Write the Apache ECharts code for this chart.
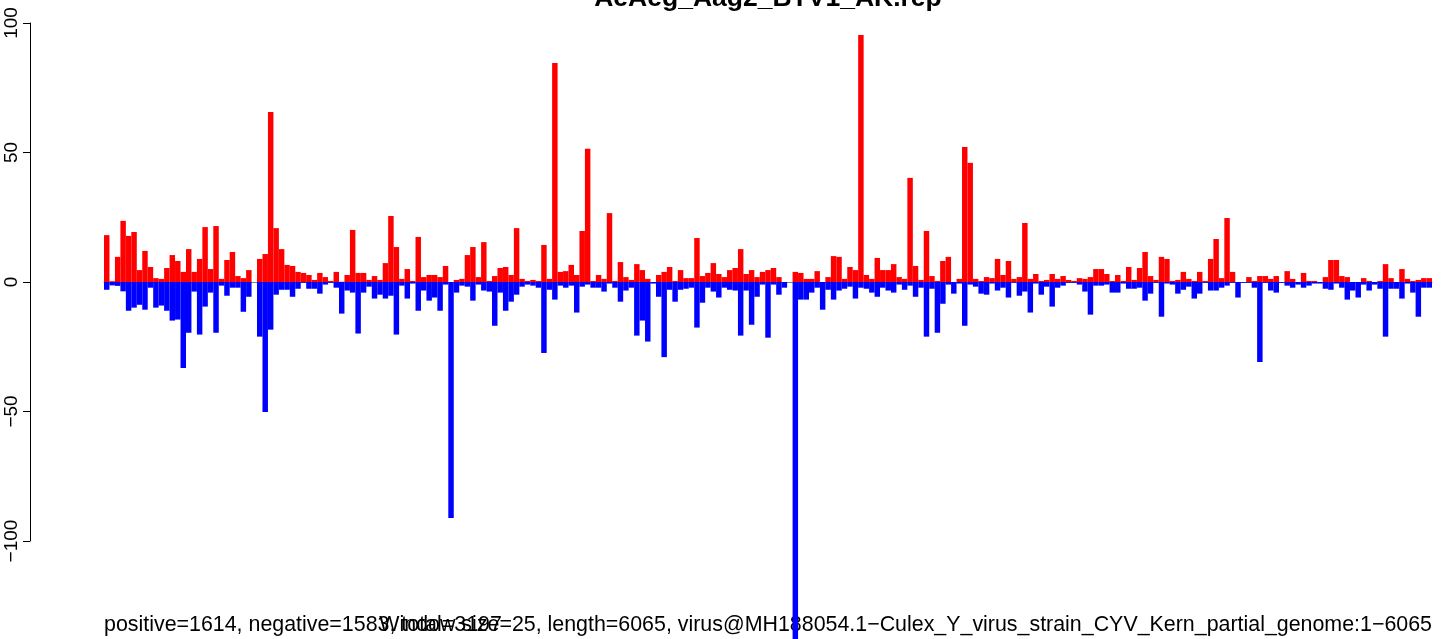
<!DOCTYPE html>
<html><head><meta charset="utf-8">
<script src="https://cdn.jsdelivr.net/npm/echarts@6/dist/echarts.min.js"></script>
<style>html,body{margin:0;padding:0;background:#fff;overflow:hidden}#c{width:1441px;height:639px}</style>
</head><body><div id="c"></div>
<script>
const titleText = 'AeAeg_Aag2_BTV1_AK.rep';
const leftNote = 'positive=1614, negative=1583, total=3197';
const rightNote = 'Window size=25, length=6065, virus@MH188054.1\u2212Culex_Y_virus_strain_CYV_Kern_partial_genome:1\u22126065';
const windowSize = 25;
const yTicks = [-100, -50, 0, 50, 100];

const positive = [
18.1,0.3,9.7,23.6,17.8,19.3,4.6,12.0,5.8,1.5,1.2,5.4,10.4,8.1,3.9,12.7,3.9,8.9,21.2,5.0,
21.6,1.2,8.5,11.6,2.3,1.5,4.6,0,8.9,10.8,65.6,20.8,12.7,6.6,6.2,3.9,3.5,2.7,0.8,3.5,
1.9,0.4,3.9,0.1,2.7,20.1,3.5,3.5,0.8,2.3,0.8,7.3,25.5,13.5,1.2,5.0,0.4,17.4,1.9,2.7,
2.7,1.9,6.2,0,0.8,1.2,10.4,13.5,1.9,15.4,0.4,2.3,5.4,5.8,2.7,20.8,1.2,0.4,0.8,0.4,
14.3,1.2,84.6,3.9,4.2,6.6,2.7,19.7,51.4,0.4,2.7,1.2,26.6,0.4,7.7,1.9,0.8,6.9,4.6,1.2,
0,2.7,3.9,5.8,0.4,4.6,1.5,1.5,17.0,2.3,3.5,7.3,3.1,1.9,4.6,5.4,12.7,3.1,4.6,1.9,
3.9,4.6,5.4,1.9,0,0,3.9,3.5,1.2,1.2,4.2,0,1.9,10.0,9.7,1.2,5.8,4.6,95.4,2.7,
1.2,9.3,4.6,4.6,6.9,1.9,1.2,40.2,6.2,0.8,19.7,2.3,0.4,8.1,9.7,0,1.2,52.1,46.0,1.2,
0.4,1.9,1.5,8.9,2.7,8.1,1.2,1.9,22.8,1.2,3.1,0.4,0.8,3.1,1.2,2.3,0.8,0.4,1.5,1.2,
1.9,5.0,5.0,3.1,0.4,2.7,0.4,5.8,0.8,5.4,11.6,2.3,0.8,9.7,8.9,0.4,0.8,3.9,1.2,0.4,
3.9,0.4,8.9,16.6,1.5,24.7,3.9,0,0,1.9,0.4,2.3,2.3,1.2,2.3,0,4.2,1.2,0,3.5,
0.4,0.4,0,1.9,8.5,8.5,2.3,1.9,0,0,1.5,0.4,0,0.4,6.9,1.5,0,5.0,1.2,0.4,
0.8,1.5,1.5
];

const negative = [
-3.0,-1.3,-1.5,-3.6,-11.1,-9.9,-8.8,-10.7,-2.2,-9.9,-9.1,-11.1,-14.9,-14.5,-33.2,-19.6,-3.7,-20.3,-9.5,-4.1,
-19.6,-1.4,-5.3,-2.2,-2.2,-11.5,-5.7,0,-21.1,-50.2,-18.4,-4.9,-3.0,-3.0,-5.7,-2.6,-0.3,-2.6,-2.6,-4.5,
-1.0,-0.3,-2.2,-12.2,-3.3,-4.1,-19.9,-4.1,-1.8,-6.4,-4.9,-6.4,-5.3,-20.3,-1.4,-6.4,-0.6,-11.1,-3.3,-7.2,
-6.0,-11.1,-1.0,-91.1,-4.1,-1.4,-1.8,-7.2,-1.0,-3.3,-3.7,-16.9,-4.1,-11.1,-7.6,-4.9,-1.8,-1.0,-1.4,-2.2,
-27.4,-3.0,-6.8,-1.4,-2.2,-1.4,-11.8,-1.8,-1.0,-2.2,-2.2,-3.7,-0.6,-2.2,-7.6,-3.3,-2.2,-20.7,-14.9,-23.0,
-0.6,-5.7,-29.0,-3.0,-7.6,-3.0,-2.6,-2.2,-17.6,-8.0,-2.2,-3.7,-6.0,-2.2,-3.0,-3.3,-20.7,-3.3,-16.5,-5.7,
-1.0,-21.5,-1.0,-4.9,-2.2,0,-140,-6.8,-6.8,-4.1,-2.2,-10.7,-3.0,-6.8,-3.3,-2.6,-1.8,-6.4,-2.2,-2.6,
-4.1,-5.7,-2.2,-3.3,-4.1,-1.0,-3.0,-1.4,-5.7,-2.2,-21.1,-2.6,-19.6,-8.4,-1.0,-4.5,-0.6,-16.9,-1.0,-1.8,
-4.5,-4.9,-0.6,-3.3,-2.2,-6.0,-0.3,-5.3,-3.7,-11.8,-0.6,-4.9,-1.8,-9.5,-2.2,-1.4,-0.3,-0.3,-1.0,-3.7,
-12.6,-1.4,-1.4,-1.0,-4.1,-4.1,-0.6,-2.6,-2.6,-2.2,-7.2,-4.5,-0.3,-13.4,-0.6,-1.0,-4.5,-3.0,-1.8,-6.4,
-4.5,-0.3,-3.3,-3.3,-2.2,-1.4,-0.3,-6.0,-0.3,-0.3,-2.2,-30.9,-0.3,-3.3,-4.1,-0.3,-1.4,-2.2,-1.0,-2.2,
-1.4,-0.6,-0.6,-2.6,-3.0,-0.6,-2.2,-6.8,-3.3,-6.0,-1.0,-3.3,-1.0,-2.6,-21.1,-2.6,-2.6,-6.4,-0.6,-4.1,
-13.4,-2.2,-2.2
];

const windowStarts = positive.map((_, i) => String(i * windowSize + 1));

const chart = echarts.init(document.getElementById('c'), null, {renderer: 'canvas'});
const font = '"Liberation Sans", Arial, Helvetica, sans-serif';
// plot scale: 100 units per 259 px, zero at 282 px, bottom of canvas at 639 px
const plotMin = -(639 - 282) / 2.59;
chart.setOption({
  animation: false,
  backgroundColor: '#ffffff',
  grid: [
    {left: 104, width: 1328, top: 23, bottom: 0},
    {left: 30, width: 1, top: 23, height: 518}
  ],
  xAxis: [
    {gridIndex: 0, type: 'category', data: windowStarts,
     axisLine: {show: true, onZero: true, lineStyle: {color: '#808080', width: 1}},
     axisTick: {show: false}, axisLabel: {show: false}, splitLine: {show: false}},
    {gridIndex: 1, type: 'value', show: false}
  ],
  yAxis: [
    {gridIndex: 0, type: 'value', min: plotMin, max: 100, show: false, splitLine: {show: false}},
    {gridIndex: 1, type: 'value', min: yTicks[0], max: yTicks[yTicks.length - 1], interval: 50,
     axisLine: {show: true, lineStyle: {color: '#000', width: 1}},
     axisTick: {show: true, length: 7, lineStyle: {color: '#000', width: 1}},
     axisLabel: {rotate: 90, margin: 9, fontSize: 19, color: '#000', fontFamily: font,
       formatter: v => (v < 0 ? '\u2212' + Math.abs(v) : String(v))},
     splitLine: {show: false}}
  ],
  series: [
    {type: 'bar', xAxisIndex: 0, yAxisIndex: 0, data: positive, barGap: '-100%', barCategoryGap: 0,
     itemStyle: {color: '#ff0000'}, z: 3},
    {type: 'bar', xAxisIndex: 0, yAxisIndex: 0, data: negative, barGap: '-100%', barCategoryGap: 0,
     itemStyle: {color: '#0000ff'}, z: 3}
  ],
  graphic: [
    {type: 'text', x: 768, y: -1, style: {text: titleText, font: 'bold 26.5px ' + font, fill: '#000', textAlign: 'center', textVerticalAlign: 'middle'}},
    {type: 'text', x: 104, y: 625, style: {text: leftNote, font: '21.4px ' + font, fill: '#000', textAlign: 'left', textVerticalAlign: 'middle'}},
    {type: 'text', x: 1432, y: 625, style: {text: rightNote, font: '21.4px ' + font, fill: '#000', textAlign: 'right', textVerticalAlign: 'middle'}}
  ]
});
</script></body></html>
